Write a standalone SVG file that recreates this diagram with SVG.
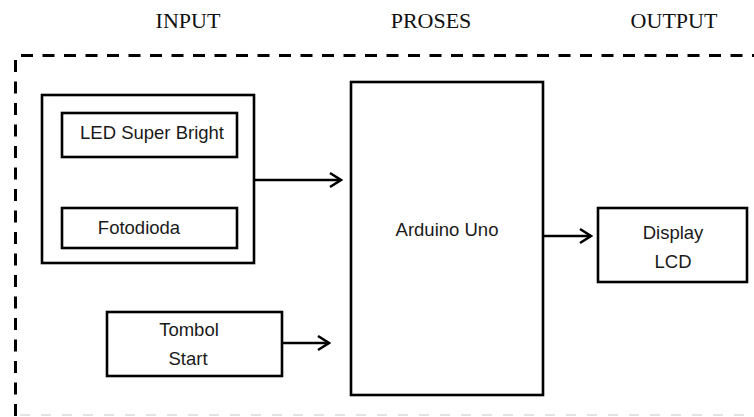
<svg xmlns="http://www.w3.org/2000/svg" width="754" height="417" viewBox="0 0 754 417">
<defs>
<style>
.box{fill:#fff;stroke:#000;stroke-width:2.6}
.lbl{font-family:"Liberation Sans",Arial,sans-serif;font-size:18.5px;fill:#1a1a1a;text-anchor:middle}
.ttl{font-family:"Liberation Serif","Times New Roman",serif;font-size:22px;fill:#111;text-anchor:middle}
.dash{fill:none;stroke:#000;stroke-width:3;stroke-dasharray:12 9.5}
.edge{fill:none;stroke:#000;stroke-width:2.5}
</style>
<marker id="arr" markerUnits="userSpaceOnUse" markerWidth="16" markerHeight="18" refX="14" refY="9" orient="auto">
<path d="M3,2 L14,9 L3,16" fill="none" stroke="#000" stroke-width="2.6"/>
</marker>
</defs>
<rect width="754" height="417" fill="#fff"/>
<g id="titles">
<text class="ttl" x="188" y="28">INPUT</text>
<text class="ttl" x="431" y="28">PROSES</text>
<text class="ttl" x="674" y="28">OUTPUT</text>
</g>
<g id="frame">
<line class="dash" x1="21" y1="55.5" x2="754" y2="55.5"/>
<line class="dash" x1="15.5" y1="60" x2="15.5" y2="417"/>
<line x1="20" y1="415" x2="754" y2="415" stroke="#c8c8c8" stroke-width="1.2" stroke-dasharray="10 11"/>
</g>
<g id="input-group">
<rect class="box" x="42" y="95" width="212" height="168"/>
</g>
<g id="led">
<rect class="box" x="62" y="113" width="175" height="44"/>
<text class="lbl" x="152" y="139">LED Super Bright</text>
</g>
<g id="fotodioda">
<rect class="box" x="62" y="208" width="175" height="40"/>
<text class="lbl" x="139" y="234">Fotodioda</text>
</g>
<g id="tombol">
<rect class="box" x="107" y="312" width="175" height="64"/>
<text class="lbl" x="189" y="336">Tombol</text>
<text class="lbl" x="188" y="365">Start</text>
</g>
<g id="arduino">
<rect class="box" x="351" y="82" width="192" height="313"/>
<text class="lbl" x="447" y="236">Arduino Uno</text>
</g>
<g id="display">
<rect class="box" x="598" y="208" width="149" height="74"/>
<text class="lbl" x="673" y="239">Display</text>
<text class="lbl" x="673" y="268">LCD</text>
</g>
<g id="connectors">
<line class="edge" x1="254" y1="180" x2="341" y2="180" marker-end="url(#arr)"/>
<line class="edge" x1="282" y1="343" x2="329" y2="343" marker-end="url(#arr)"/>
<line class="edge" x1="543" y1="236" x2="591" y2="236" marker-end="url(#arr)"/>
</g>
</svg>
